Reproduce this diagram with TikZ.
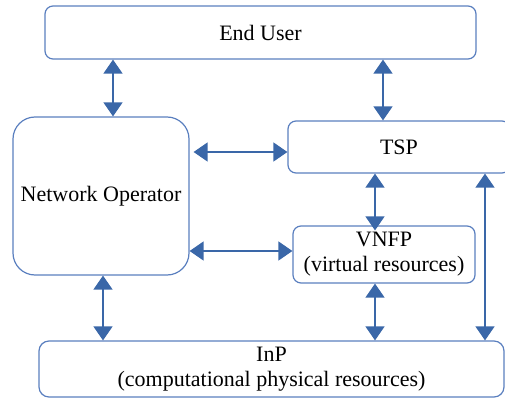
\documentclass[tikz,border=0pt]{standalone}
\usepackage{fontspec}
\setmainfont{Liberation Serif}
\usetikzlibrary{arrows.meta}
\definecolor{boxc}{HTML}{5A7FBF}
\definecolor{arrc}{HTML}{3A67A8}
\begin{document}
\begin{tikzpicture}[x=1pt,y=-1pt,
  box/.style={draw=boxc,line width=1.2pt,rounded corners=8pt,inner sep=0pt,
    align=center,font=\fontsize{22}{25}\selectfont},
  arr/.style={draw=arrc,line width=1.3pt,{Triangle[width=19pt,length=14pt]}-{Triangle[width=19pt,length=14pt]},fill=arrc}]
\useasboundingbox (0,0) rectangle (505,398);
\begin{scope}
\clip (0,0) rectangle (505,398);
\node[box,minimum width=431pt,minimum height=53pt] (eu) at (260.5,32.5) {End User};
\node[box,rounded corners=22pt,minimum width=176pt,minimum height=158pt] (no) at (101,196) {Network Operator};
\node[box,minimum width=222pt,minimum height=52pt] (tsp) at (399,147) {TSP};
\node[box,minimum width=182pt,minimum height=57pt] (vnfp) at (384,254.5) {VNFP\\(virtual resources)};
\node[box,rounded corners=10pt,minimum width=465pt,minimum height=56pt] (inp) at (271.5,369) {InP\\(computational physical resources)};
\coordinate (c1) at (113,0);
\coordinate (c2) at (383,0);
\coordinate (c3) at (375,0);
\coordinate (c4) at (103,0);
\coordinate (c5) at (485,0);
\coordinate (r1) at (0,152);
\coordinate (r2) at (0,251);
\draw[arr] (eu.south -| c1) -- (no.north -| c1);
\draw[arr] (eu.south -| c2) -- (tsp.north -| c2);
\draw[arr] ([xshift=4pt]no.east |- r1) -- (tsp.west |- r1);
\draw[arr] (no.east |- r2) -- (vnfp.west |- r2);
\draw[arr] (tsp.south -| c3) -- ([yshift=-5pt]vnfp.north -| c3);
\draw[arr] (no.south -| c4) -- (inp.north -| c4);
\draw[arr] (vnfp.south -| c3) -- (inp.north -| c3);
\draw[arr] (tsp.south -| c5) -- (inp.north -| c5);
\end{scope}
\end{tikzpicture}
\end{document}
